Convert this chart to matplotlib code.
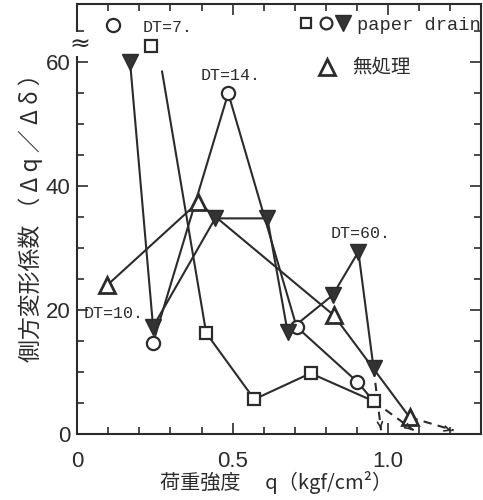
import matplotlib
matplotlib.use('Agg')
import matplotlib.pyplot as plt
from matplotlib.ticker import MultipleLocator

plt.rcParams['font.family'] = ['Liberation Sans', 'Noto Sans CJK JP', 'DejaVu Sans']

# paper drain, squares (the line enters from above the axis break)
sq_q = [0.273, 0.415, 0.570, 0.751, 0.954]
sq_v = [58.5, 16.3, 5.6, 9.8, 5.3]
# paper drain, circles (ends on the last square point)
ci_q = [0.244, 0.486, 0.706, 0.902, 0.954]
ci_v = [14.7, 55.0, 17.3, 8.4, 5.3]
# paper drain, filled down-triangles
tv_q = [0.170, 0.244, 0.444, 0.612, 0.677, 0.822, 0.905, 0.954]
tv_v = [60.0, 17.3, 34.8, 34.8, 16.5, 22.4, 29.4, 10.6]
# 無処理 (no treatment), open triangles
tu_q = [0.096, 0.389, 0.825, 1.070]
tu_v = [24.0, 37.4, 19.2, 2.7]

# DT=7 points that are off the scale (plotted above the break)
off_sq = (0.238, 62.6)
off_ci = (0.115, 66.0)

# dashed lines to failure
fail_q0 = [0.954, 0.954, 1.070]
fail_v0 = [10.6, 5.3, 2.7]
fail_q1 = [0.978, 1.083, 1.212]

dt_labels = ['DT=7.', 'DT=14.', 'DT=10.', 'DT=60.']
dt_q = [0.209, 0.396, 0.019, 0.815]
dt_v = [65.6, 57.9, 19.5, 32.4]

c = '#2b2b2b'
lw = 1.5

fig = plt.figure(figsize=(4.83, 5.0), dpi=100)
ax = fig.add_axes([0.160, 0.132, 0.836, 0.860])

ax.plot(sq_q, sq_v, color=c, lw=lw, zorder=2)
ax.plot(ci_q, ci_v, color=c, lw=lw, zorder=2)
ax.plot(tv_q, tv_v, color=c, lw=lw, zorder=2)
ax.plot(tu_q, tu_v, color=c, lw=lw, zorder=2)

ax.plot(sq_q[1:] + [off_sq[0]], sq_v[1:] + [off_sq[1]], ls='none', marker='s', ms=9,
        mfc='white', mec=c, mew=1.6, zorder=3)
ax.plot(ci_q[:4] + [off_ci[0]], ci_v[:4] + [off_ci[1]], ls='none', marker='o', ms=9.5,
        mfc='white', mec=c, mew=1.6, zorder=3)
ax.plot(tv_q, tv_v, ls='none', marker='v', ms=12, mfc='#333333', mec=c, mew=1, zorder=4)
ax.plot(tu_q, tu_v, ls='none', marker='^', ms=12, mfc='white', mec=c, mew=2, zorder=3)

for q0, v0, q1 in zip(fail_q0, fail_v0, fail_q1):
    ax.plot([q0, q1], [v0, 0.6], color=c, lw=lw, ls=(0, (4, 3)), zorder=2)
    ax.annotate('', xy=(q1, 0.4), xytext=(q1 - (q1 - q0) * 0.12, 0.4 + (v0 - 0.4) * 0.12),
                arrowprops=dict(arrowstyle='->', color=c, lw=1.2, mutation_scale=9))

for s, q, v in zip(dt_labels, dt_q, dt_v):
    ax.text(q, v, s, family='Liberation Mono', fontsize=12, color=c, ha='left', va='center')

# legend drawn by hand
ax.plot([0.566], [0.956], 's', ms=7.5, mfc='white', mec=c, mew=1.6, transform=ax.transAxes, clip_on=False)
ax.plot([0.616], [0.956], 'o', ms=8.5, mfc='white', mec=c, mew=1.6, transform=ax.transAxes, clip_on=False)
ax.plot([0.658], [0.956], 'v', ms=11, mfc='#333333', mec=c, transform=ax.transAxes, clip_on=False)
ax.text(0.692, 0.950, 'paper drain', family='Liberation Mono', fontsize=13.5, color=c,
        transform=ax.transAxes, ha='left', va='center')
ax.plot([0.618], [0.853], '^', ms=11, mfc='white', mec=c, mew=2, transform=ax.transAxes, clip_on=False)
ax.text(0.682, 0.853, '無処理', family='Noto Sans CJK JP', fontsize=14, color=c,
        transform=ax.transAxes, ha='left', va='center')

# axis break mark
ax.text(0.008, 62.9, '≈', family='DejaVu Sans', fontsize=18, color=c, ha='center', va='center',
        clip_on=False, bbox=dict(facecolor='white', edgecolor='none', pad=0))

ax.set_xlim(0, 1.3)
ax.set_ylim(0, 69.4)
ax.set_xticks([0, 0.5, 1.0])
ax.set_xticklabels(['0', '0.5', '1.0'])
ax.set_yticks([0, 20, 40, 60])
ax.xaxis.set_minor_locator(MultipleLocator(0.1))
ax.yaxis.set_minor_locator(MultipleLocator(5))
ax.tick_params(which='both', direction='in', top=True, right=True, color=c, width=1.2,
               labelsize=16, labelcolor=c)
ax.tick_params(which='major', length=8)
ax.tick_params(which='minor', length=5)
ax.tick_params(axis='x', pad=12)
ax.tick_params(axis='y', pad=5)
for sp in ax.spines.values():
    sp.set_color(c)
    sp.set_linewidth(1.5)

fig.text(31 / 483, 1 - 212 / 500, '側方変形係数 （ Δ q ／ Δ δ ）', family='Noto Sans CJK JP',
         fontsize=16.5, color=c, rotation=90, ha='center', va='center')
fig.text(276 / 483, 1 - 482 / 500, '荷重強度　 q（kgf/cm²）', family=['Noto Sans CJK JP', 'DejaVu Sans'],
         fontsize=14.5, color=c, ha='center', va='center')

fig.savefig('out.png', dpi=100)
